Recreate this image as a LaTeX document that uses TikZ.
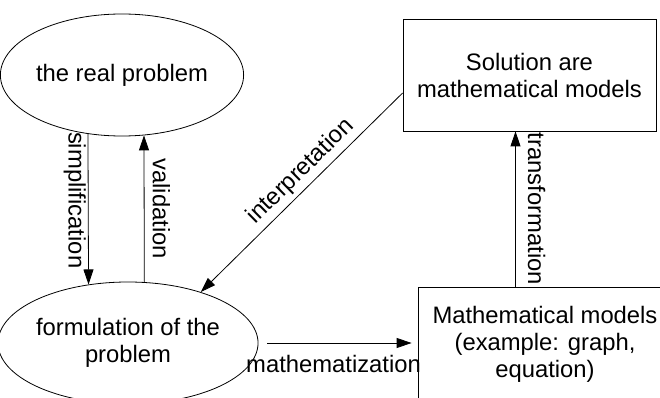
\documentclass[tikz,border=0pt]{standalone}
\usepackage{fontspec}
\setmainfont{Liberation Sans}
\usetikzlibrary{shapes.geometric,arrows.meta}
\begin{document}
\begin{tikzpicture}[x=1pt,y=-1pt,
  every node/.style={font=\fontsize{23.8}{27}\selectfont},
  ell/.style={draw, ellipse, inner sep=0pt, line width=0.8pt, align=center},
  box/.style={draw, rectangle, inner sep=0pt, line width=0.8pt, align=center},
  arr/.style={line width=0.8pt, -{Triangle[length=15pt,width=10pt]}},
  lbl/.style={inner sep=4pt}]
\clip (0,0) rectangle (660,398);
\node[ell, minimum width=224pt, minimum height=122pt] (real) at (122,75) {the real problem};
\node[ell, minimum width=226pt, minimum height=122pt] (form) at (128,343) {formulation of the\\problem};
\node[box, minimum width=253pt, minimum height=112pt] (sol) at (529.5,75) {Solution are\\mathematical models};
\node[box, minimum width=254pt, minimum height=115pt] (mm) at (545,344.5) {Mathematical models\\(example: graph,\\equation)};
\draw[arr] (real.240.5) -- (form.124.26) node[lbl, inner sep=2pt, pos=0.44, rotate=-90, anchor=north] {simplification};
\draw[arr] (form.75.16) -- (real.290.2) node[lbl, inner sep=8pt, midway, rotate=-90, anchor=south] {validation};
\draw[arr] ([yshift=-18pt]sol.west) -- (form.35) node[lbl, pos=0.45, rotate=44.6, anchor=south] {interpretation};
\coordinate (tx) at ([xshift=-14pt]sol.south);
\draw[arr] (mm.north -| tx) -- (tx) node[lbl, inner sep=12pt, midway, rotate=-90, anchor=south] {transformation};
\draw[arr, shorten >=6pt] ([xshift=9pt]form.east) -- (form.east -| mm.west) node[lbl, midway, anchor=north, yshift=-8pt, xshift=-9pt] {mathematization};
\end{tikzpicture}
\end{document}
